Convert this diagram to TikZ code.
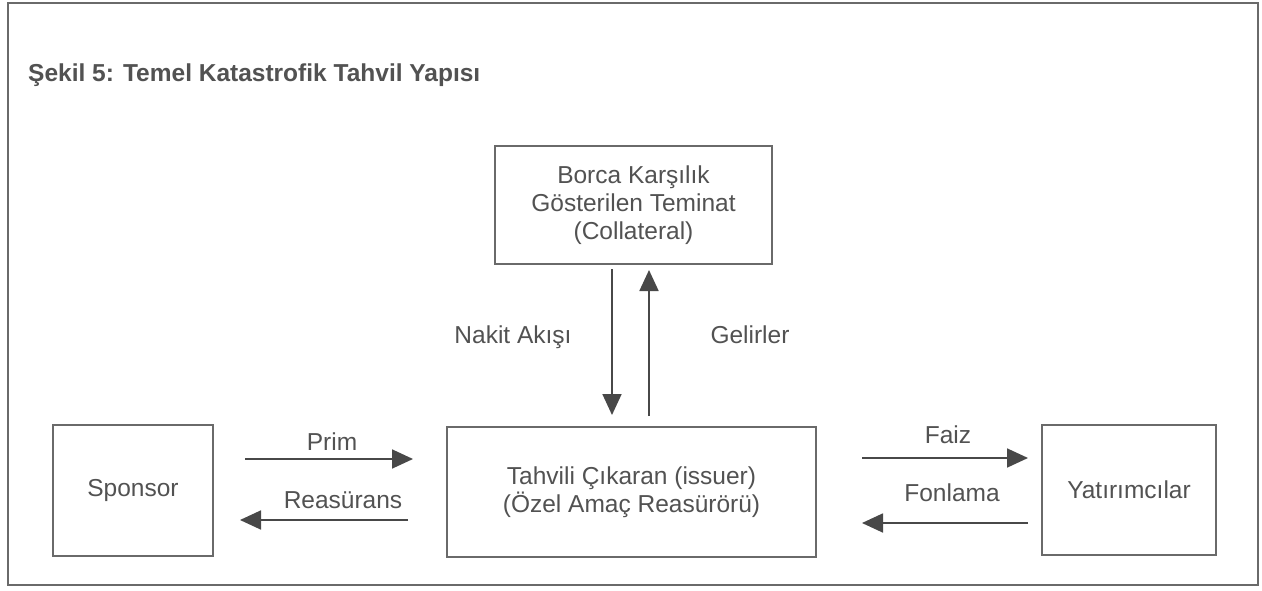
\documentclass[tikz,border=0pt]{standalone}
\usepackage{fontspec}
\setmainfont{Liberation Sans}
\usetikzlibrary{arrows.meta}
\definecolor{txt}{HTML}{525252}
\definecolor{ln}{HTML}{6A6A6A}
\definecolor{arr}{HTML}{484848}
\tikzset{
  boxnode/.style={draw=ln, line width=1.3pt, rectangle, align=center, text=txt,
    font=\fontsize{24.5}{28}\selectfont, inner sep=0pt},
  lbl/.style={text=txt, font=\fontsize{24.5}{28}\selectfont, anchor=base, inner sep=0pt},
  flow/.style={draw=arr, line width=1.8pt, -{Triangle[length=21pt,width=19pt]}},
}
\begin{document}
\begin{tikzpicture}[x=1pt,y=-1pt]
\useasboundingbox (0,0) rectangle (1262,591);
\fill[white] (0,0) rectangle (1262,591);
\draw[draw=ln, line width=2.2pt] (8,3) rectangle (1258,585);
\node[text=txt, font=\bfseries\fontsize{24.5}{28}\selectfont, anchor=base west, inner sep=0pt] (title) at (28,82) {Şekil 5: Temel Katastrofik Tahvil Yapısı};

\node[boxnode, minimum width=277pt, minimum height=118pt] (coll) at (633.5,205) {Borca Karşılık\\Gösterilen Teminat\\(Collateral)};
\node[boxnode, minimum width=160pt, minimum height=131pt] (sponsor) at (133,490.5) {Sponsor};
\node[boxnode, minimum width=369pt, minimum height=130pt] (issuer) at (631.5,492) {Tahvili Çıkaran (issuer)\\(Özel Amaç Reasürörü)};
\node[boxnode, minimum width=174pt, minimum height=130pt] (yat) at (1129,490) {Yatırımcılar};

\coordinate (d1) at (612,269);
\coordinate (d2) at (612,415);
\coordinate (u1) at (649,416);
\coordinate (u2) at (649,270);
\coordinate (p1) at (245,459);
\coordinate (p2) at (413,459);
\coordinate (r1) at (408,520);
\coordinate (r2) at (240,520);
\coordinate (f1) at (862,458);
\coordinate (f2) at (1028,458);
\coordinate (g1) at (1028,523);
\coordinate (g2) at (862,523);

\draw[flow] (d1) -- (d2);
\draw[flow] (u1) -- (u2);
\draw[flow] (p1) -- (p2);
\draw[flow] (r1) -- (r2);
\draw[flow] (f1) -- (f2);
\draw[flow] (g1) -- (g2);

\node[lbl] (nakit) at (513,343) {Nakit Akışı};
\node[lbl] (gelir) at (750,343) {Gelirler};
\node[lbl] (prim) at (332,450) {Prim};
\node[lbl] (reas) at (343,508) {Reasürans};
\node[lbl] (faiz) at (948,443) {Faiz};
\node[lbl] (fonl) at (952,501) {Fonlama};
\end{tikzpicture}
\end{document}
